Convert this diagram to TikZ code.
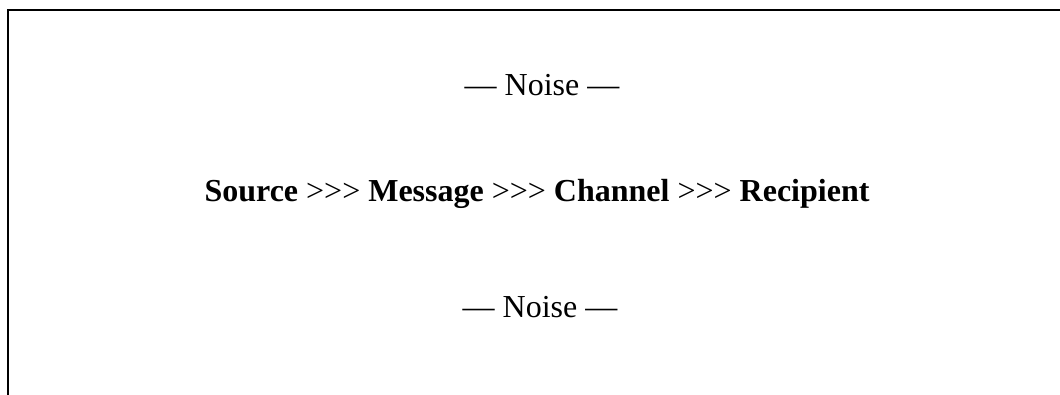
\documentclass[tikz,border=0pt]{standalone}
\usepackage{fontspec}
\setmainfont{Liberation Serif}
\usetikzlibrary{positioning}

\newcommand{\chainsep}{>{}>{}>}

\tikzset{
  label line/.style={anchor=base, inner sep=0pt, font=\fontsize{24}{28}\selectfont},
  frame line/.style={line width=1.5pt, line cap=rect}
}

\begin{document}
\begin{tikzpicture}[x=0.75pt, y=0.75pt]

    \useasboundingbox (0,0) rectangle (1060,395);

    % open frame
    \coordinate (top left) at (8,385);
    \coordinate (top right) at (1062,385);
    \coordinate (bottom left) at (8,-2);
    \draw[frame line] (bottom left) -- (top left) -- (top right);

    \node[label line] (noise top) at (542,299) {— Noise —};
    \node[label line] (chain) at (537,193)
      {\textbf{Source} \chainsep{} \textbf{Message} \chainsep{} \textbf{Channel} \chainsep{} \textbf{Recipient}};
    \node[label line] (noise bottom) at (540,77) {— Noise —};

\end{tikzpicture}
\end{document}
